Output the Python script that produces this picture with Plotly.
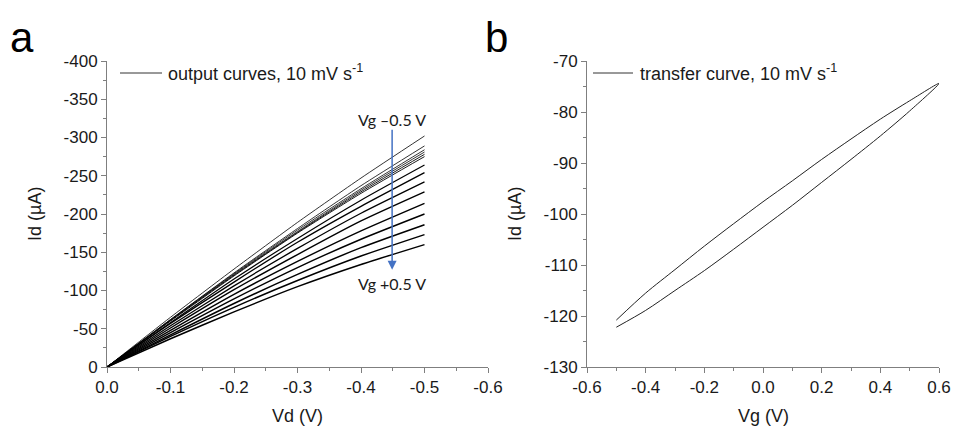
import plotly.graph_objects as go

# ---- panel a: output curves (Id vs Vd), one curve per gate voltage step ----
vd = [0.0, -0.1, -0.2, -0.3, -0.4, -0.5]
id_curves = [
    [0, -65, -128, -189, -247, -302],
    [0, -62, -123, -181, -237, -289],
    [0, -62, -122, -179, -233, -284],
    [0, -61, -121, -177, -231, -281],
    [0, -61, -120, -176, -229, -278],
    [0, -60, -119, -175, -227, -275],
    [0, -58, -115, -168, -218, -264],
    [0, -57, -111, -163, -210, -254],
    [0, -54, -106, -155, -201, -242],
    [0, -51, -101, -147, -191, -229],
    [0, -48, -95, -138, -178, -214],
    [0, -45, -89, -130, -167, -200],
    [0, -42, -83, -121, -156, -186],
    [0, -40, -78, -113, -145, -173],
    [0, -37, -72, -105, -134, -160],
]
line_widths = [0.8, 0.8, 0.8, 0.8, 0.9, 0.9, 1.2, 1.3, 1.3, 1.4, 1.4, 1.4, 1.5, 1.5, 1.5]

# ---- panel b: transfer curve (Id vs Vg), forward then reverse sweep ----
vg_fwd = [-0.5, -0.4, -0.3, -0.2, -0.1, 0.0, 0.1, 0.2, 0.3, 0.4, 0.5, 0.6]
id_fwd = [-120.8, -115.5, -110.9, -106.3, -101.9, -97.6, -93.5, -89.3, -85.3, -81.4, -77.8, -74.4]
vg_rev = [0.6, 0.5, 0.4, 0.3, 0.2, 0.1, 0.0, -0.1, -0.2, -0.3, -0.4, -0.5]
id_rev = [-74.6, -79.8, -84.7, -89.3, -93.8, -98.3, -102.6, -106.9, -111.1, -115.0, -118.9, -122.2]

xa_ticks = [0.0, -0.1, -0.2, -0.3, -0.4, -0.5, -0.6]
xa_text = ["0.0", "-0.1", "-0.2", "-0.3", "-0.4", "-0.5", "-0.6"]
ya_ticks = [0, -50, -100, -150, -200, -250, -300, -350, -400]
ya_text = ["0", "-50", "-100", "-150", "-200", "-250", "-300", "-350", "-400"]
xb_ticks = [-0.6, -0.4, -0.2, 0.0, 0.2, 0.4, 0.6]
xb_text = ["-0.6", "-0.4", "-0.2", "0.0", "0.2", "0.4", "0.6"]
yb_ticks = [-70, -80, -90, -100, -110, -120, -130]
yb_text = ["-70", "-80", "-90", "-100", "-110", "-120", "-130"]

FONT = "Liberation Sans, Arial, sans-serif"
AXIS_GREY = "#7f7f7f"
TEXT = "#1a1a1a"
W, H = 956, 428

fig = go.Figure()

for ys, w in zip(id_curves, line_widths):
    fig.add_trace(go.Scatter(
        x=vd, y=ys, mode="lines", xaxis="x", yaxis="y",
        line=dict(color="black", width=w, shape="spline", smoothing=0.6),
        showlegend=False, hoverinfo="skip"))

fig.add_trace(go.Scatter(
    x=vg_fwd + vg_rev[1:], y=id_fwd + id_rev[1:],
    mode="lines", xaxis="x2", yaxis="y2",
    line=dict(color="#222222", width=1, shape="spline", smoothing=0.8),
    showlegend=False, hoverinfo="skip"))


def axis_style(tickvals, ticktext, minor_dtick, rng, domain, anchor):
    return dict(
        domain=domain, anchor=anchor, range=rng, automargin=False,
        tickmode="array", tickvals=tickvals, ticktext=ticktext,
        ticks="outside", ticklen=5, tickwidth=1, tickcolor=AXIS_GREY,
        minor=dict(ticks="outside", ticklen=3, tickcolor=AXIS_GREY, dtick=minor_dtick,
                   showgrid=False),
        showline=True, linecolor=AXIS_GREY, linewidth=1, mirror=False,
        showgrid=False, zeroline=False,
        tickfont=dict(family=FONT, size=17, color=TEXT),
    )


ydom = [1 - 367 / H, 1 - 61 / H]
fig.update_layout(
    width=W, height=H,
    margin=dict(l=0, r=0, t=0, b=0, autoexpand=False),
    paper_bgcolor="white", plot_bgcolor="white",
    xaxis=axis_style(xa_ticks, xa_text, 0.05, [0.0, -0.6], [107 / W, 488 / W], "y"),
    yaxis=axis_style(ya_ticks, ya_text, 25, [0, -400], ydom, "x"),
    xaxis2=axis_style(xb_ticks, xb_text, 0.1, [-0.6, 0.6], [587 / W, 939 / W], "y2"),
    yaxis2=axis_style(yb_ticks, yb_text, 5, [-130, -70], ydom, "x2"),
)

# axis titles
for x, y, label, ang in [(297, 416, "Vd (V)", 0), (35, 214, "Id (µA)", -90),
                         (763, 416, "Vg (V)", 0), (515, 214, "Id (µA)", -90)]:
    fig.add_annotation(xref="paper", yref="paper", x=x / W, y=1 - y / H, text=label,
                       textangle=ang, showarrow=False, xanchor="center", yanchor="middle",
                       font=dict(family=FONT, size=18, color=TEXT))

# legend-style key for each panel
for x0, x1, label, xt in [(120, 162, "output curves, 10 mV s<sup>-1</sup>", 166),
                          (593, 633, "transfer curve, 10 mV s<sup>-1</sup>", 638)]:
    fig.add_shape(type="line", xref="paper", yref="paper",
                  x0=x0 / W, x1=x1 / W, y0=1 - 73 / H, y1=1 - 73 / H,
                  line=dict(color="#333333", width=1))
    fig.add_annotation(xref="paper", yref="paper", x=xt / W, y=1 - 73 / H,
                       text=label, showarrow=False, xanchor="left", yanchor="middle",
                       font=dict(family=FONT, size=18, color=TEXT))

# panel letters
for xl, letter in [(8, "a"), (483, "b")]:
    fig.add_annotation(xref="paper", yref="paper", x=xl / W, y=1 - 38 / H,
                       text=letter, showarrow=False, xanchor="left", yanchor="middle",
                       font=dict(family=FONT, size=42, color="black"))

# gate-voltage direction arrow
fig.add_annotation(xref="x", yref="y", x=-0.449, y=-127, ax=-0.449, ay=-312,
                   axref="x", ayref="y", text="", showarrow=True,
                   arrowhead=2, arrowsize=1.2, arrowwidth=1.5, arrowcolor="#4472c4")
fig.add_annotation(xref="x", yref="y", x=-0.449, y=-323, text="Vg –0.5 V",
                   showarrow=False, font=dict(family="Lato, Open Sans, sans-serif",
                                              size=16, color=TEXT))
fig.add_annotation(xref="x", yref="y", x=-0.449, y=-109, text="Vg +0.5 V",
                   showarrow=False, font=dict(family="Lato, Open Sans, sans-serif",
                                              size=16, color=TEXT))

fig.write_html("out.html")
